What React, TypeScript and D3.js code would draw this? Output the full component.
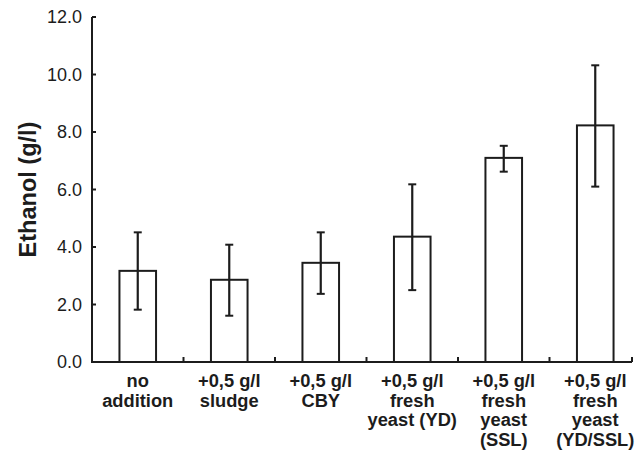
import React from 'react';
import * as d3 from 'd3';

// categories (multi-line labels) and measured ethanol values
const categories = [
  ['no', 'addition'],
  ['+0,5 g/l', 'sludge'],
  ['+0,5 g/l', 'CBY'],
  ['+0,5 g/l', 'fresh', 'yeast (YD)'],
  ['+0,5 g/l', 'fresh', 'yeast', '(SSL)'],
  ['+0,5 g/l', 'fresh', 'yeast', '(YD/SSL)'],
];
const means = [3.17, 2.86, 3.45, 4.36, 7.1, 8.23];
const errUpper = [4.51, 4.08, 4.51, 6.18, 7.52, 10.32];
const errLower = [1.82, 1.61, 2.37, 2.5, 6.62, 6.1];
const yTicks = [0, 2, 4, 6, 8, 10, 12];

const W = 644;
const H = 454;
const margin = {top: 17, right: 3, bottom: 92, left: 92};
const ink = '#1c1c1c';
const font = '"Liberation Sans", Arial, Helvetica, sans-serif';

const App = () => {
  const ids = categories.map((_, i) => String(i));
  const x = d3
    .scaleBand()
    .domain(ids)
    .range([margin.left, W - margin.right])
    .paddingInner(0)
    .paddingOuter(0);
  const y = d3
    .scaleLinear()
    .domain([0, 12])
    .range([H - margin.bottom, margin.top]);

  const barW = x.bandwidth() * 0.4;
  const axisEnd = (x.range()[1] as number) - 9;
  const y0 = y(0);

  return (
    <svg
      width={W}
      height={H}
      style={{position: 'absolute', left: 0, top: 0, background: '#fff'}}
      fontFamily={font}
    >
      {/* y axis */}
      <line x1={margin.left} x2={margin.left} y1={y(12)} y2={y0} stroke={ink} strokeWidth={2} />
      {yTicks.map(t => (
        <g key={t}>
          <line x1={margin.left} x2={margin.left + 4} y1={y(t)} y2={y(t)} stroke={ink} strokeWidth={2} />
          <text
            x={margin.left - 10}
            y={y(t)}
            dy="0.36em"
            textAnchor="end"
            fontSize={18}
            fill={ink}
          >
            {d3.format('.1f')(t)}
          </text>
        </g>
      ))}
      <text
        transform={`translate(36, ${(y(12) + y0) / 2}) rotate(-90)`}
        textAnchor="middle"
        fontSize={23.5}
        fontWeight="bold"
        fill={ink}
      >
        Ethanol (g/l)
      </text>

      {/* x axis */}
      <line x1={margin.left - 1} x2={axisEnd} y1={y0} y2={y0} stroke={ink} strokeWidth={2} />
      {ids.slice(1).map(id => (
        <line
          key={id}
          x1={x(id)}
          x2={x(id)}
          y1={y0}
          y2={y0 - 5}
          stroke={ink}
          strokeWidth={2}
        />
      ))}
      <line x1={axisEnd} x2={axisEnd} y1={y0} y2={y0 - 5} stroke={ink} strokeWidth={2} />

      {/* bars */}
      {means.map((m, i) => {
        const cx = (x(ids[i]) as number) + x.bandwidth() / 2;
        return (
          <g key={i}>
            <rect
              x={cx - barW / 2}
              y={y(m)}
              width={barW}
              height={y0 - y(m)}
              fill="#fff"
              stroke={ink}
              strokeWidth={2}
            />
            <line x1={cx} x2={cx} y1={y(errUpper[i])} y2={y(errLower[i])} stroke={ink} strokeWidth={2.2} />
            <line x1={cx - 4} x2={cx + 4} y1={y(errUpper[i])} y2={y(errUpper[i])} stroke={ink} strokeWidth={2} />
            <line x1={cx - 4} x2={cx + 4} y1={y(errLower[i])} y2={y(errLower[i])} stroke={ink} strokeWidth={2} />
          </g>
        );
      })}

      {/* category labels */}
      {categories.map((lines, i) => {
        const cx = (x(ids[i]) as number) + x.bandwidth() / 2;
        return (
          <text key={i} textAnchor="middle" fontSize={18.3} fontWeight="bold" fill={ink}>
            {lines.map((l, j) => (
              <tspan key={j} x={cx} y={y0 + 25 + j * 19.7}>
                {l}
              </tspan>
            ))}
          </text>
        );
      })}
    </svg>
  );
};

export default App;
